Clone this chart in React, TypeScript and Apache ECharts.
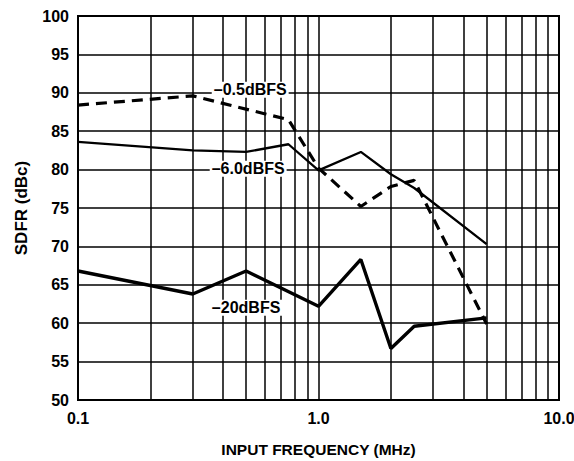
import React, { useEffect, useRef } from "react";
import * as echarts from "echarts";

const freqs05 = [0.1, 0.3, 0.75, 1.0, 1.5, 2.0, 2.5, 5.0];
const sdfr05 = [88.4, 89.6, 86.5, 80.2, 75.2, 77.8, 78.6, 59.9];
const freqs6 = [0.1, 0.3, 0.5, 0.75, 1.0, 1.5, 2.0, 2.5, 5.0];
const sdfr6 = [83.6, 82.5, 82.3, 83.3, 79.9, 82.3, 79.4, 77.6, 70.3];
const freqs20 = [0.1, 0.3, 0.5, 1.0, 1.5, 2.0, 2.5, 5.0];
const sdfr20 = [66.8, 63.8, 66.8, 62.2, 68.3, 56.7, 59.6, 60.7];
const minorGrid = [0.2, 0.3, 0.4, 0.5, 0.6, 0.7, 0.8, 0.9, 2, 3, 4, 5, 6, 7, 8, 9];
const seriesLabels = ["\u20130.5dBFS", "\u20136.0dBFS", "\u201320dBFS"];
const labelPos: [number, number][] = [[0.52, 90.4], [0.51, 80.1], [0.5, 62.0]];

const FONT = "'Liberation Sans', Arial, Helvetica, sans-serif";

function pairs(xs: number[], ys: number[]) {
  return xs.map((x, i) => [x, ys[i]]);
}

function labelPoint(i: number) {
  return {
    silent: true,
    symbol: "rect",
    symbolSize: 1,
    itemStyle: { color: "rgba(0,0,0,0)" },
    label: {
      show: true,
      position: "inside",
      formatter: seriesLabels[i],
      color: "#000",
      fontFamily: FONT,
      fontWeight: "bold",
      fontSize: 16,
      backgroundColor: "#fff",
      padding: [0, 2],
    },
    data: [{ coord: labelPos[i] }],
  };
}

export default function App() {
  const ref = useRef<HTMLDivElement>(null);
  useEffect(() => {
    if (!ref.current) return;
    const chart = echarts.init(ref.current, null, { renderer: "svg" });
    chart.setOption({
      animation: false,
      backgroundColor: "#fff",
      grid: {
        left: 78,
        right: 15,
        top: 16,
        bottom: 61,
        show: true,
        borderColor: "#000",
        borderWidth: 2,
        containLabel: false,
        outerBoundsMode: "none",
      },
      xAxis: {
        type: "log",
        logBase: 10,
        min: 0.1,
        max: 10,
        name: "INPUT FREQUENCY (MHz)",
        nameLocation: "middle",
        nameGap: 41,
        nameTextStyle: { fontFamily: FONT, fontWeight: "bold", fontSize: 15.5, color: "#000" },
        axisLine: { show: true, lineStyle: { color: "#000", width: 2 } },
        axisTick: { show: false },
        axisLabel: {
          fontFamily: FONT,
          fontWeight: "bold",
          fontSize: 16,
          color: "#000",
          margin: 10,
          formatter: (v: number) => Number(v).toFixed(1),
        },
        splitLine: { show: true, lineStyle: { color: "#000", width: 1.5 } },
        minorSplitLine: { show: false },
      },
      yAxis: {
        type: "value",
        min: 50,
        max: 100,
        interval: 5,
        name: "SDFR (dBc)",
        nameLocation: "middle",
        nameGap: 48,
        nameTextStyle: { fontFamily: FONT, fontWeight: "bold", fontSize: 17, color: "#000" },
        axisLine: { show: true, lineStyle: { color: "#000", width: 2 } },
        axisTick: { show: false },
        axisLabel: {
          fontFamily: FONT,
          fontWeight: "bold",
          fontSize: 16,
          color: "#000",
          margin: 9,
        },
        splitLine: { show: true, lineStyle: { color: "#000", width: 1.5 } },
      },
      series: [
        {
          type: "line",
          data: [],
          silent: true,
          z: 1,
          markLine: {
            silent: true,
            symbol: "none",
            label: { show: false },
            lineStyle: { color: "#000", width: 1.5, type: "solid" },
            data: minorGrid.map((x) => ({ xAxis: x })),
          },
        },
        {
          type: "line",
          data: pairs(freqs05, sdfr05),
          showSymbol: false,
          symbol: "none",
          z: 3,
          lineStyle: { color: "#000", width: 3.2, type: [11, 7] },
          markPoint: labelPoint(0),
        },
        {
          type: "line",
          data: pairs(freqs6, sdfr6),
          showSymbol: false,
          symbol: "none",
          z: 3,
          lineStyle: { color: "#000", width: 2.3 },
          markPoint: labelPoint(1),
        },
        {
          type: "line",
          data: pairs(freqs20, sdfr20),
          showSymbol: false,
          symbol: "none",
          z: 3,
          lineStyle: { color: "#000", width: 3.4 },
          markPoint: labelPoint(2),
        },
      ],
    });
    return () => chart.dispose();
  }, []);
  return (
    <div
      ref={ref}
      style={{ position: "fixed", left: 0, top: 0, width: 574, height: 461, background: "#fff" }}
    />
  );
}
